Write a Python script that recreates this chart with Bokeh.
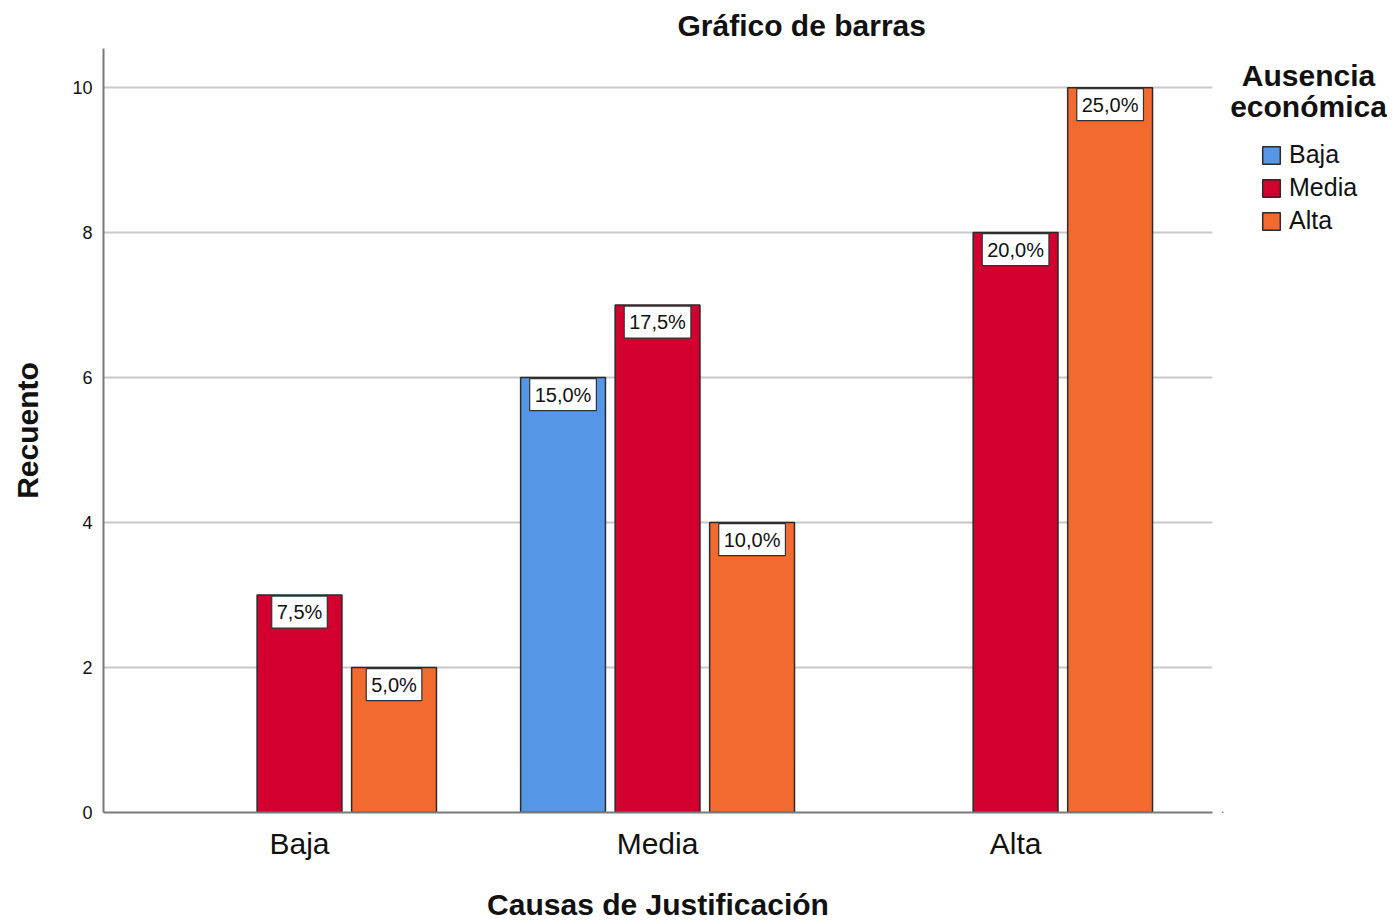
from bokeh.plotting import figure
from bokeh.models import ColumnDataSource, Legend, LegendItem, FixedTicker, Range1d
from bokeh.layouts import row
from bokeh.core.properties import value
from bokeh.embed import file_html
from bokeh.resources import INLINE

categories = ["Baja", "Media", "Alta"]
series_names = ["Baja", "Media", "Alta"]
counts_baja = [0, 6, 0]
counts_media = [3, 7, 8]
counts_alta = [2, 4, 10]
pct_baja = ["", "15,0%", ""]
pct_media = ["7,5%", "17,5%", "20,0%"]
pct_alta = ["5,0%", "10,0%", "25,0%"]
colors = ["#5596e6", "#d3002f", "#f26a2d"]
y_ticks = [0, 2, 4, 6, 8, 10]
legend_title = ["Ausencia", "económica"]

FONT = "Liberation Sans"
TXT = "#111111"
H = 923

p = figure(width=1222, height=H, output_backend="svg", toolbar_location=None,
           x_range=(-0.5475, 2.550), y_range=Range1d(0, 10.54),
           min_border_left=103, min_border_top=46, min_border_bottom=111, min_border_right=10)

p.title.text = "Gráfico de barras"
p.title.align = "left"
p.title.offset = 574
p.title.standoff = 13
p.title.text_font = FONT
p.title.text_font_size = "30px"
p.title.text_font_style = "bold"
p.title.text_color = TXT

width = 0.237
step = 0.264
series = [counts_baja, counts_media, counts_alta]
pcts = [pct_baja, pct_media, pct_alta]
for i, (vals, labels, col) in enumerate(zip(series, pcts, colors)):
    xs = [k + (i - 1) * step for k in range(len(categories))]
    keep = [j for j, v in enumerate(vals) if v > 0]
    src = ColumnDataSource(dict(x=[xs[j] for j in keep], top=[vals[j] for j in keep],
                                lab=[labels[j] for j in keep]))
    p.vbar(x="x", top="top", width=width, source=src, fill_color=col,
           line_color="#2b2b2b", line_width=1.5)
    p.text(x="x", y="top", text="lab", source=src, text_align="center",
           text_baseline="top", y_offset=1, text_font=value(FONT), text_font_size="20px",
           text_color=TXT, background_fill_color="white",
           border_line_color="#333333", border_line_width=1.2, padding=5)

p.xaxis.ticker = FixedTicker(ticks=[0, 1, 2])
p.xaxis.major_label_overrides = {0: "Baja", 1: "Media", 2: "Alta"}
p.xaxis.major_label_text_font = FONT
p.xaxis.major_label_text_font_size = "30px"
p.xaxis.major_label_text_color = TXT
p.xaxis.major_label_standoff = 8
p.xaxis.axis_label = "Causas de Justificación"
p.xaxis.axis_label_text_font = FONT
p.xaxis.axis_label_text_font_size = "30px"
p.xaxis.axis_label_text_font_style = "bold"
p.xaxis.axis_label_text_color = TXT
p.xaxis.axis_label_standoff = 25

p.yaxis.ticker = FixedTicker(ticks=y_ticks)
p.yaxis.major_label_text_font = FONT
p.yaxis.major_label_text_font_size = "18px"
p.yaxis.major_label_text_color = TXT
p.yaxis.major_label_standoff = 5
p.yaxis.axis_label = "Recuento"
p.yaxis.axis_label_text_font = FONT
p.yaxis.axis_label_text_font_size = "30px"
p.yaxis.axis_label_text_font_style = "bold"
p.yaxis.axis_label_text_color = TXT
p.yaxis.axis_label_standoff = 25

for ax in (p.xaxis, p.yaxis):
    ax.axis_line_color = "#7a7a7a"
    ax.axis_line_width = 2
    ax.major_tick_line_color = None
    ax.minor_tick_line_color = None

p.xgrid.grid_line_color = None
p.ygrid.ticker = FixedTicker(ticks=y_ticks)
p.ygrid.grid_line_color = "#c8c8c8"
p.ygrid.grid_line_width = 2
p.outline_line_color = None
p.background_fill_color = "white"
p.border_fill_color = "white"

# side panel holding the legend; shares the y scale so its frame lines up
SW = 165
side = figure(width=SW, height=H, output_backend="svg", toolbar_location=None,
              x_range=Range1d(0, SW), y_range=p.y_range,
              min_border=0, min_border_left=0, min_border_right=0,
              min_border_top=46, min_border_bottom=111)
side.axis.visible = False
side.grid.grid_line_color = None
side.outline_line_color = None
side.background_fill_color = "white"
side.border_fill_color = "white"

# legend swatch renderers: one placeholder each, kept well outside the visible area
swatches = []
for col in colors:
    swatches.append(side.vbar(x=[-300], top=[-30], bottom=[-31], width=1, fill_color=col,
                              line_color="#2b2b2b", line_width=1.5))

side.text(x=[86, 86], y=[10.165, 9.74], text=legend_title,
          text_align="center", text_baseline="middle", text_font=value(FONT),
          text_font_size="30px", text_font_style="bold", text_color=TXT)

legend = Legend(items=[LegendItem(label=n, renderers=[r], index=0)
                       for n, r in zip(series_names, swatches)],
                label_text_font=FONT, label_text_font_size="25px", label_text_color=TXT,
                glyph_width=22, glyph_height=22, label_height=22, spacing=4,
                border_line_color=None, background_fill_alpha=0, padding=0, margin=0,
                label_standoff=7, location=(38, 577))
side.add_layout(legend)

layout = row(p, side, spacing=0)
open("out.html", "w").write(file_html(layout, INLINE))
